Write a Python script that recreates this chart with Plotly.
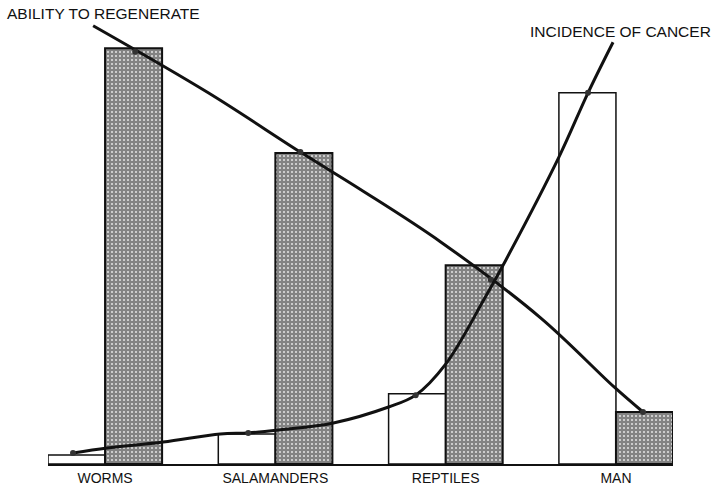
import plotly.graph_objects as go

# ---- data (arbitrary 0-100 scale) ----
categories = ["WORMS", "SALAMANDERS", "REPTILES", "MAN"]
cat_pos = [0, 1, 2, 3]
cancer_bars = [2.0, 6.6, 15.4, 81.4]        # white bars
regenerate_bars = [91.2, 68.2, 43.6, 11.4]  # hatched bars

# ability to regenerate line (x in category units)
ability_x = [-0.070, 0.606, 1.147, 1.500, 1.971, 2.559, 2.989, 3.159]
ability_y = [96.1, 81.4, 68.4, 60.2, 48.7, 32.0, 16.9, 11.4]
ability_mx = [0.177, 1.147, 2.265, 3.159]
ability_my = [90.4, 68.4, 40.4, 11.4]

# incidence of cancer curve
cancer_x = [-0.188, 0.012, 0.341, 0.677, 0.841, 1.030, 1.341, 1.665, 1.824,
            2.000, 2.224, 2.353, 2.665, 2.836, 2.983]
cancer_y = [2.4, 3.5, 4.8, 6.6, 6.8, 7.5, 9.0, 12.5, 15.1,
            21.9, 36.0, 44.7, 67.3, 81.4, 92.5]
cancer_mx = [-0.188, 0.841, 1.824, 2.836]
cancer_my = [2.4, 6.8, 15.1, 81.4]

fig = go.Figure()

fig.add_trace(go.Bar(
    x=cat_pos, y=cancer_bars, name="Incidence of cancer",
    marker=dict(color="white", line=dict(color="#111", width=1.5)),
))
fig.add_trace(go.Bar(
    x=cat_pos, y=regenerate_bars, name="Ability to regenerate",
    marker=dict(color="white", line=dict(color="#111", width=2),
                pattern=dict(shape="+", fgcolor="#111", bgcolor="#f4f4f4",
                             size=4, solidity=0.82)),
))

fig.add_trace(go.Scatter(
    x=ability_x, y=ability_y, mode="lines",
    line=dict(color="#111", width=3, shape="spline", smoothing=1.0),
))
fig.add_trace(go.Scatter(
    x=ability_mx, y=ability_my, mode="markers",
    marker=dict(color="#333", size=6),
))
fig.add_trace(go.Scatter(
    x=cancer_x, y=cancer_y, mode="lines",
    line=dict(color="#111", width=3, shape="spline", smoothing=1.0),
))
fig.add_trace(go.Scatter(
    x=cancer_mx, y=cancer_my, mode="markers",
    marker=dict(color="#333", size=6),
))

fig.update_layout(
    width=715, height=487,
    margin=dict(l=48, r=42, t=8, b=23),
    paper_bgcolor="white", plot_bgcolor="white",
    showlegend=False,
    barmode="group", bargap=0.33, bargroupgap=0,
    font=dict(family="Liberation Sans, Arial, sans-serif", color="#111"),
    xaxis=dict(
        range=[-0.335, 3.335], tickmode="array", tickvals=cat_pos,
        ticktext=categories, showgrid=False, zeroline=False,
        showline=True, linecolor="#111", linewidth=2, ticks="",
        tickfont=dict(size=14, color="#111"), automargin=False,
    ),
    yaxis=dict(range=[0, 100], visible=False, showgrid=False,
               zeroline=False, automargin=False),
    annotations=[
        dict(text="ABILITY TO REGENERATE", xref="paper", yref="paper",
             x=-0.069, y=0.989, xanchor="left", yanchor="middle",
             showarrow=False, font=dict(size=15.5, color="#111")),
        dict(text="INCIDENCE OF CANCER", xref="paper", yref="paper",
             x=1.064, y=0.948, xanchor="right", yanchor="middle",
             showarrow=False, font=dict(size=15.5, color="#111")),
    ],
)

fig.write_html(
    "out.html",
    config={"displayModeBar": False},
    post_script="document.body.style.margin='0px';"
                "document.body.style.overflow='hidden';",
)
